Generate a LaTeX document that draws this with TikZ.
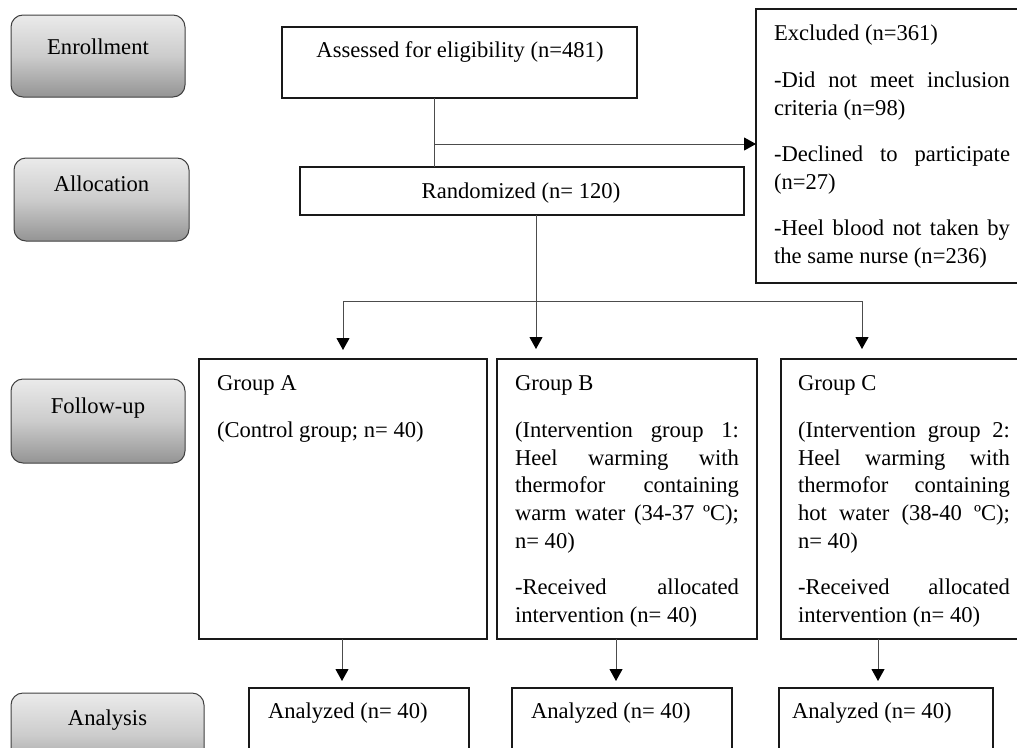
\documentclass[tikz,border=0pt]{standalone}
\usepackage{fontspec}
\setmainfont{Liberation Serif}
\usetikzlibrary{arrows.meta}
\hyphenpenalty=10000
\exhyphenpenalty=10000
\tolerance=10000
\hbadness=10000
\begin{document}
\begin{tikzpicture}[x=1pt,y=-1pt,
  every node/.style={inner sep=0pt, outer sep=0pt,
    font=\fontsize{22.6}{27.8}\selectfont},
  box/.style={draw=black!90, line width=1.5pt},
  gbox/.style={draw=black!75, line width=1pt, rounded corners=12pt,
    top color=black!8, bottom color=black!42, middle color=black!20},
  para/.style={anchor=north west, align=justify, text width=#1},
  lbl/.style={anchor=base},
  conn/.style={draw=black!70, line width=1pt},
  arr/.style={conn, -{Triangle[length=12pt,width=13pt,color=black]}},
]
\clip (0,0) rectangle (1017,747);

% stage labels
\node[gbox, minimum width=174pt, minimum height=82pt] (enr) at (98,56) {};
\node[lbl] (enrt) at (98,54) {Enrollment};
\node[gbox, minimum width=175pt, minimum height=83pt] (alloc) at (101.5,199.5) {};
\node[lbl] (alloct) at (101.5,191) {Allocation};
\node[gbox, minimum width=174pt, minimum height=84pt] (fol) at (98,421) {};
\node[lbl] (folt) at (98,413) {Follow-up};
\node[gbox, minimum width=193pt, minimum height=84pt] (ana) at (107.5,735) {};
\node[lbl] (anat) at (107.5,725) {Analysis};

% top boxes
\node[box, minimum width=355pt, minimum height=71pt] (assess) at (459.5,62.5) {};
\node[lbl] (assesst) at (460,57) {Assessed for eligibility (n=481)};
\node[box, minimum width=444pt, minimum height=48pt] (rand) at (522,191) {};
\node[lbl] (randt) at (521,198) {Randomized (n= 120)};
\node[box, minimum width=280pt, minimum height=274pt] (excl) at (896,146) {};
\node[para=236pt] (exclt) at (774,21.5) {\setlength\parskip{18.6pt}\strut Excluded (n=361)\par
-Did not meet inclusion\linebreak criteria (n=98)\par
-Declined to participate\linebreak (n=27)\par
-Heel blood not taken by\linebreak the same nurse (n=236)\hspace*{\fill}};

% group boxes
\node[box, minimum width=288pt, minimum height=280pt] (ga) at (343,499) {};
\node[para=250pt] (gat) at (217,371.5) {\setlength\parskip{18.6pt}\strut Group A\par (Control group; n= 40)\hspace*{\fill}};
\node[box, minimum width=260pt, minimum height=280pt] (gb) at (627,499) {};
\node[para=224pt] (gbt) at (515,371.5) {\setlength\parskip{18.6pt}\strut Group B\par
(Intervention group 1:\linebreak Heel warming with\linebreak thermofor containing\linebreak warm water (34-37 ºC);\linebreak n= 40)\par
-Received allocated\linebreak intervention (n= 40)\hspace*{\fill}};
\node[box, minimum width=260pt, minimum height=280pt] (gc) at (911,499) {};
\node[para=212pt] (gct) at (798,371.5) {\setlength\parskip{18.6pt}\strut Group C\par
(Intervention group 2:\linebreak Heel warming with\linebreak thermofor containing\linebreak hot water (38-40 ºC);\linebreak n= 40)\par
-Received allocated\linebreak intervention (n= 40)\hspace*{\fill}};

% analyzed boxes
\node[box, minimum width=220pt, minimum height=90pt] (a1) at (359,733) {};
\node[anchor=base west] (a1t) at (268,718) {Analyzed (n= 40)};
\node[box, minimum width=220pt, minimum height=90pt] (a2) at (622,733) {};
\node[anchor=base west] (a2t) at (531,718) {Analyzed (n= 40)};
\node[box, minimum width=214pt, minimum height=90pt] (a3) at (886,733) {};
\node[anchor=base west] (a3t) at (792,718) {Analyzed (n= 40)};

% connectors
\coordinate (j1) at (434,144);
\coordinate (j2) at (536,301);
\coordinate (jl) at (343,301);
\coordinate (jr) at (862,301);
\draw[conn] (j1 |- assess.south) -- (j1 |- rand.north);
\draw[arr] (j1) -- (excl.west |- j1);
\draw[arr, shorten >=10pt] (j2 |- rand.south) -- (j2 |- gb.north);
\draw[conn] (jl) -- (jr);
\draw[arr, shorten >=9pt] (jl) -- (jl |- ga.north);
\draw[arr, shorten >=10pt] (jr) -- (jr |- gc.north);
\draw[arr, shorten >=7pt] (342,639) coordinate (b1) -- (b1 |- a1.north);
\draw[arr, shorten >=7pt] (616,639) coordinate (b2) -- (b2 |- a2.north);
\draw[arr, shorten >=7pt] (878,639) coordinate (b3) -- (b3 |- a3.north);
\end{tikzpicture}
\end{document}
